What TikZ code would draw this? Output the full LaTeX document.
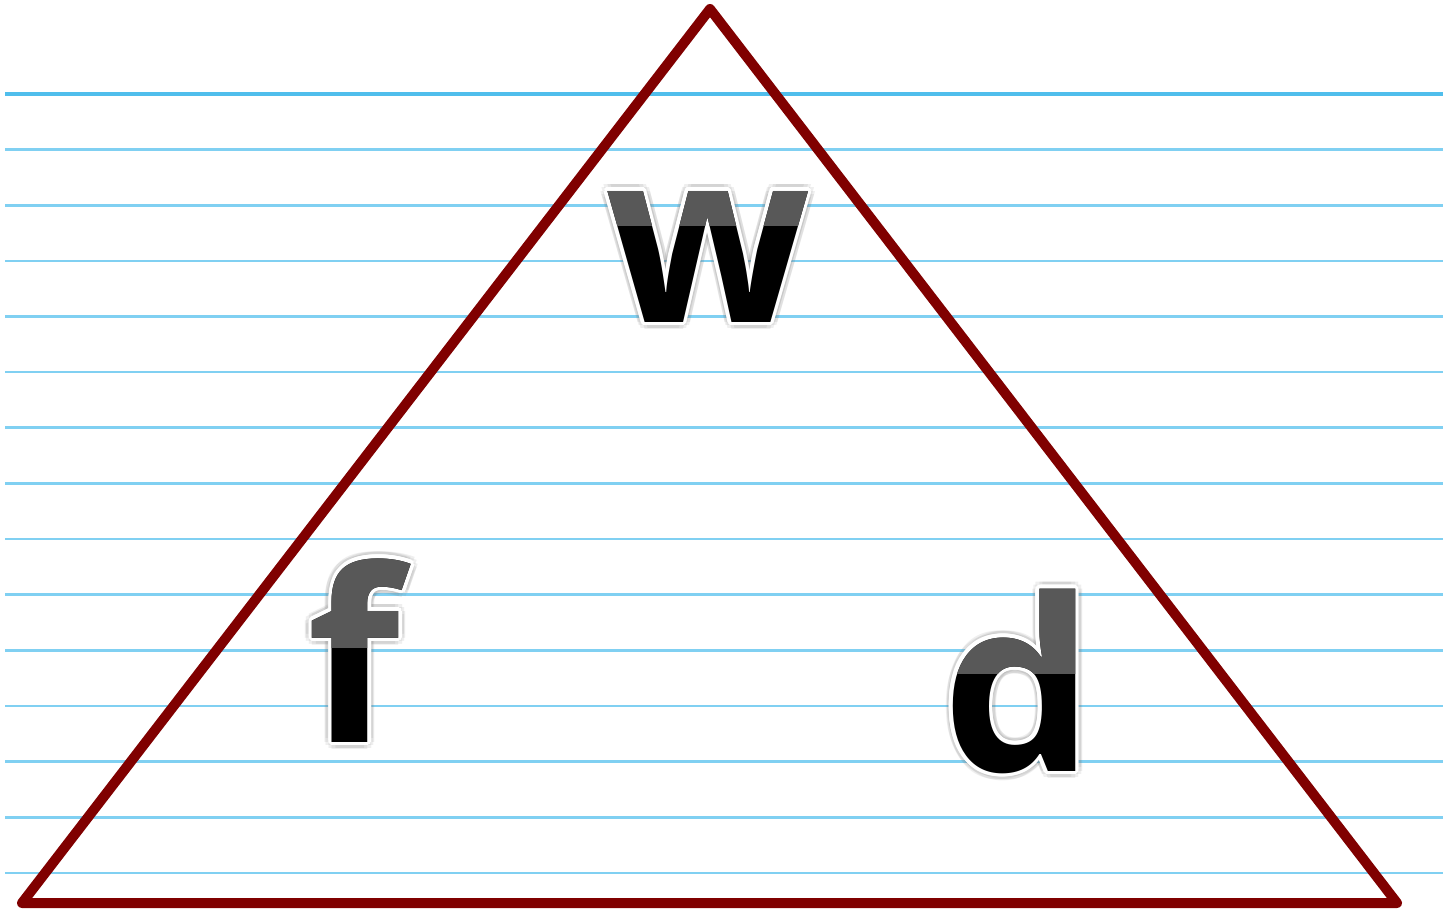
\documentclass[tikz,border=0pt]{standalone}
\usepackage{fontspec}
\setmainfont{Open Sans}
\usepackage{xcolor}
\definecolor{edge}{RGB}{128,0,0}
\definecolor{ruleline}{RGB}{128,208,242}
\definecolor{topline}{RGB}{80,190,236}
\definecolor{glossgray}{RGB}{88,88,88}
\definecolor{halo}{RGB}{120,120,120}

\tikzset{
  letter/.style={inner sep=0pt, anchor=base, text=black,
    font=\fontsize{120}{120}\selectfont\bfseries},
  rule/.style={ruleline, line width=1.3pt},
}

% one glossy letter: name, x, y (baseline), y of the gray/black split, text
\newcommand{\glossletter}[5]{%
  \foreach \a in {0,30,...,330}
    \node[letter, text=halo, opacity=.12, shift={(\a:7)}] at (#2,#3) {#5};
  \foreach \a in {0,22.5,...,337.5}
    \node[letter, text=white, shift={(\a:3.5)}] at (#2,#3) {#5};
  \node[letter] (#1) at (#2,#3) {#5};
  \begin{scope}
    \clip (#2-200,#3-320) rectangle (#2+200,#4);
    \node[letter, text=glossgray] at (#2,#3) {#5};
  \end{scope}}

\begin{document}
\begin{tikzpicture}[x=0.5pt, y=-0.5pt]
  \useasboundingbox (0,0) rectangle (1455,911);

  % ruled paper
  \foreach \i in {1,...,14}
    \draw[rule] (5,94+55.63*\i) -- (1443,94+55.63*\i);
  \draw[topline, line width=1.6pt] (5,94) -- (1443,94);

  % triangle
  \coordinate (apex) at (710,9);
  \coordinate (lower left) at (22,903);
  \coordinate (lower right) at (1397,903);
  \draw[edge, line width=5pt, line join=round]
    (apex) -- (lower right) -- (lower left) -- cycle;

  % letters
  \glossletter{work}{708}{322}{225}{w}
  \glossletter{force}{354}{742}{647}{f}
  \glossletter{distance}{1018}{771}{673}{d}
\end{tikzpicture}
\end{document}
